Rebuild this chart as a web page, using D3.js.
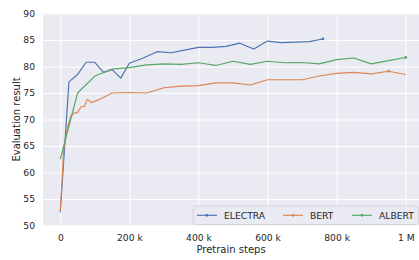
<!DOCTYPE html>
<html><head><meta charset="utf-8">
<script src="https://cdn.jsdelivr.net/npm/d3@7"></script>
<style>body{margin:0;background:#fff}svg{display:block}text{font-family:"DejaVu Sans",sans-serif;fill:#262626}</style>
</head><body><svg id="c" width="419" height="260"></svg>
<script>
const seriesNames = ["ELECTRA", "BERT", "ALBERT"];
const seriesColors = ["#4C72B0", "#DD8452", "#55A868"];
const electraSteps = [0,25000,50000,75000,100000,125000,150000,175000,200000,240000,280000,320000,360000,400000,440000,480000,520000,560000,600000,640000,680000,720000,760000];
const electraValues = [52.5,77.1,78.5,80.8,80.8,78.9,79.4,77.8,80.6,81.6,82.8,82.6,83.1,83.6,83.6,83.8,84.4,83.3,84.8,84.5,84.6,84.7,85.2];
const bertSteps = [0,10000,20000,30000,40000,50000,60000,70000,78000,90000,110000,150000,200000,250000,300000,350000,400000,450000,500000,550000,600000,650000,700000,750000,800000,850000,900000,950000,1000000];
const bertValues = [52.8,64.5,68.3,70.6,71.2,71.3,72.4,72.5,73.8,73.2,73.7,75.0,75.1,75.0,76.0,76.3,76.4,76.9,76.9,76.5,77.5,77.5,77.5,78.2,78.7,78.9,78.6,79.1,78.5];
const albertSteps = [0,50000,100000,150000,200000,250000,300000,350000,400000,450000,500000,550000,600000,650000,700000,750000,800000,850000,900000,950000,1000000];
const albertValues = [62.5,75.0,78.2,79.5,79.8,80.3,80.5,80.4,80.7,80.2,81.0,80.4,81.0,80.7,80.75,80.5,81.3,81.6,80.5,81.1,81.7];
const xTickValues = [0,200000,400000,600000,800000,1000000];
const xTickLabels = ["0","200 k","400 k","600 k","800 k","1 M"];
const yTickValues = [50,55,60,65,70,75,80,85,90];

const svg = d3.select("#c");
const x = d3.scaleLinear().domain([-50000,1050000]).range([43.03,423.0]);
const y = d3.scaleLinear().domain([50,90]).range([225.5,13.5]);

svg.append("rect").attr("x",x(-50000)).attr("y",y(90)).attr("width",x(1050000)-x(-50000)).attr("height",y(50)-y(90)).attr("fill","#EAEAF2");

const gx = svg.append("g").attr("transform",`translate(0,${y(50)})`)
  .call(d3.axisBottom(x).tickValues(xTickValues).tickFormat((d,i)=>xTickLabels[i]).tickSize(-(y(50)-y(90))).tickPadding(8.7));
const gy = svg.append("g").attr("transform",`translate(${x(-50000)},0)`)
  .call(d3.axisLeft(y).tickValues(yTickValues).tickSize(-(x(1050000)-x(-50000))).tickPadding(8));
[gx,gy].forEach(g=>{
  g.select(".domain").remove();
  g.selectAll(".tick line").attr("stroke","#fff").attr("stroke-width",1);
  g.selectAll(".tick text").attr("font-size",9.2).attr("fill","#262626").attr("font-family","DejaVu Sans");
});

svg.append("text").attr("x",(x(-50000)+x(1050000))/2 - 2).attr("y",253).attr("text-anchor","middle").attr("font-size",10).text("Pretrain steps");
svg.append("text").attr("transform",`translate(19.5,${(y(50)+y(90))/2}) rotate(-90)`).attr("text-anchor","middle").attr("font-size",10).text("Evaluation result");

const data = [
  electraSteps.map((s,i)=>[s,electraValues[i]]),
  bertSteps.map((s,i)=>[s,bertValues[i]]),
  albertSteps.map((s,i)=>[s,albertValues[i]])
];
const line = d3.line().x(d=>x(d[0])).y(d=>y(d[1]));
data.forEach((d,i)=>{
  svg.append("path").attr("d",line(d)).attr("fill","none").attr("stroke",seriesColors[i]).attr("stroke-width",1.15).attr("stroke-linejoin","round");
  const best = d[d3.maxIndex(d,p=>p[1])];
  svg.append("circle").attr("cx",x(best[0])).attr("cy",y(best[1])).attr("r",1.4).attr("fill",seriesColors[i]);
});

// legend
const lg = svg.append("g");
lg.append("rect").attr("x",193).attr("y",206).attr("width",225.5).attr("height",18.5).attr("rx",2.5)
  .attr("fill","#EAEAF2").attr("fill-opacity",0.8).attr("stroke","#cfcfd6").attr("stroke-width",0.8);
const lx = [197,283,352];
seriesNames.forEach((n,i)=>{
  lg.append("line").attr("x1",lx[i]).attr("x2",lx[i]+20).attr("y1",215.3).attr("y2",215.3).attr("stroke",seriesColors[i]).attr("stroke-width",1.15);
  lg.append("circle").attr("cx",lx[i]+10).attr("cy",215.3).attr("r",1.4).attr("fill",seriesColors[i]);
  lg.append("text").attr("x",lx[i]+27).attr("y",218.6).attr("font-size",9.2).text(n);
});
</script></body></html>
